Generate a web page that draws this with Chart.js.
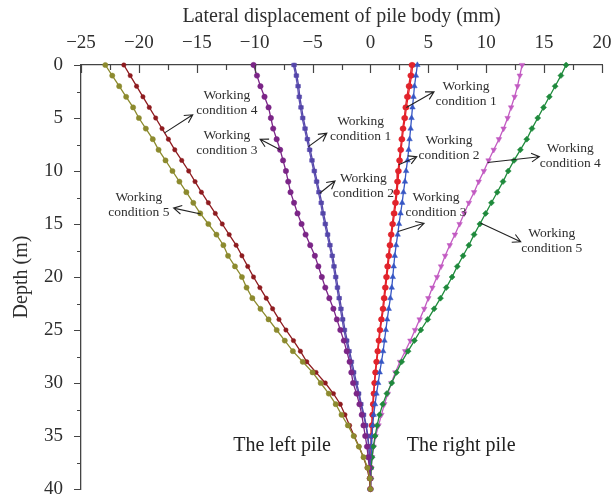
<!DOCTYPE html>
<html>
<head>
<meta charset="utf-8">
<script src="https://cdn.jsdelivr.net/npm/chart.js@4.4.0/dist/chart.umd.min.js"></script>
<style>
  html, body { margin: 0; background: #fff; }
</style>
</head>
<body>
<canvas id="pileChart" width="613" height="497"></canvas>
<script>
// Depth below pile head (m), one reading per metre
const depth = [0,1,2,3,4,5,6,7,8,9,10,11,12,13,14,15,16,17,18,19,20,
               21,22,23,24,25,26,27,28,29,30,31,32,33,34,35,36,37,38,39,40];

// Lateral displacement (mm) — left pile
const leftCase1 = [-6.65,-6.45,-6.3,-6.2,-6.05,-5.9,-5.7,-5.5,-5.3,-5.1,-4.9,-4.7,-4.5,-4.3,-4.15,-3.95,-3.75,-3.55,-3.35,-3.2,-3.05,
                   -2.9,-2.75,-2.6,-2.45,-2.3,-2.1,-1.9,-1.7,-1.5,-1.3,-1.05,-0.85,-0.6,-0.4,-0.25,-0.15,-0.1,-0.05,-0.02,0];
const leftCase2 = [-6.55,-6.35,-6.2,-6.1,-5.95,-5.8,-5.6,-5.4,-5.2,-5.0,-4.8,-4.6,-4.4,-4.2,-4.05,-3.85,-3.65,-3.45,-3.25,-3.1,-2.95,
                   -2.8,-2.65,-2.5,-2.35,-2.2,-2.0,-1.8,-1.6,-1.4,-1.2,-0.97,-0.78,-0.55,-0.36,-0.22,-0.13,-0.08,-0.04,-0.01,0];
const leftCase3 = [-10.1,-9.8,-9.5,-9.15,-8.8,-8.6,-8.4,-8.1,-7.8,-7.55,-7.3,-7.1,-6.9,-6.6,-6.3,-5.95,-5.6,-5.2,-4.8,-4.5,-4.2,
                   -3.9,-3.55,-3.2,-2.9,-2.6,-2.3,-2.05,-1.8,-1.65,-1.5,-1.2,-0.95,-0.75,-0.6,-0.45,-0.3,-0.2,-0.1,-0.05,0];
const leftCase4 = [-21.3,-20.75,-20.2,-19.65,-19.1,-18.55,-18.0,-17.45,-16.9,-16.3,-15.7,-15.15,-14.6,-14.0,-13.4,-12.8,-12.2,-11.6,-11.1,-10.6,-10.1,
                   -9.55,-9.0,-8.45,-7.9,-7.3,-6.65,-6.05,-5.5,-4.7,-3.9,-3.2,-2.6,-2.2,-1.8,-1.4,-1.0,-0.6,-0.3,-0.1,0];
const leftCase5 = [-22.9,-22.3,-21.7,-21.1,-20.5,-20.0,-19.4,-18.8,-18.3,-17.7,-17.1,-16.5,-15.9,-15.3,-14.7,-14.0,-13.3,-12.7,-12.3,-11.7,-11.1,
                   -10.7,-10.2,-9.5,-8.8,-8.1,-7.4,-6.7,-5.85,-5.0,-4.3,-3.6,-3.0,-2.5,-1.95,-1.45,-1.0,-0.6,-0.25,-0.05,0];

// Lateral displacement (mm) — right pile
const rightCase1 = [3.65,3.55,3.4,3.25,3.1,3.0,2.85,2.75,2.65,2.55,2.45,2.38,2.3,2.2,2.08,1.95,1.83,1.72,1.62,1.52,1.42,
                    1.32,1.22,1.12,0.98,0.85,0.75,0.65,0.55,0.45,0.36,0.3,0.24,0.18,0.13,0.09,0.06,0.04,0.02,0.01,0];
const rightCase2 = [3.55,3.45,3.3,3.15,3.02,2.92,2.78,2.68,2.58,2.48,2.38,2.3,2.22,2.12,2.0,1.88,1.76,1.65,1.55,1.45,1.35,
                    1.25,1.15,1.05,0.92,0.8,0.7,0.6,0.5,0.41,0.33,0.27,0.21,0.16,0.11,0.08,0.05,0.03,0.02,0.01,0];
const rightCase3 = [4.05,3.93,3.8,3.72,3.63,3.55,3.47,3.38,3.3,3.2,3.08,2.98,2.85,2.74,2.6,2.47,2.35,2.22,2.1,2.01,1.93,
                    1.84,1.72,1.58,1.45,1.33,1.21,1.1,0.95,0.8,0.67,0.52,0.4,0.28,0.2,0.13,0.08,0.05,0.02,0.01,0];
const rightCase4 = [13.1,12.9,12.7,12.45,12.15,11.85,11.5,11.1,10.65,10.2,9.8,9.35,8.95,8.5,8.1,7.7,7.3,6.85,6.45,6.1,5.75,
                    5.35,5.0,4.65,4.25,3.85,3.45,3.0,2.55,2.15,1.8,1.5,1.2,0.95,0.7,0.45,0.28,0.15,0.07,0.02,0];
const rightCase5 = [16.9,16.45,15.95,15.45,14.95,14.45,13.95,13.5,12.95,12.4,11.9,11.45,10.95,10.45,9.95,9.45,8.95,8.5,8.0,7.5,7.05,
                    6.55,6.05,5.5,4.95,4.35,3.8,3.25,2.7,2.25,1.84,1.42,1.06,0.78,0.58,0.4,0.25,0.14,0.06,0.02,0];

const SERIF = '"Liberation Serif", "DejaVu Serif", serif';
const INK = '#2e2e2e';

const series = [
  { label: 'Left pile, working condition 5',  data: leftCase5,  color: '#8c8a2e', style: 'circle',   r: 2.6 },
  { label: 'Left pile, working condition 4',  data: leftCase4,  color: '#8e1b1f', style: 'circle',   r: 2.2 },
  { label: 'Left pile, working condition 3',  data: leftCase3,  color: '#7b2587', style: 'circle',   r: 2.7 },
  { label: 'Left pile, working condition 2',  data: leftCase2,  color: '#5446a8', style: 'rect',     r: 2.5 },
  { label: 'Left pile, working condition 1',  data: leftCase1,  color: '#5d4fb3', style: 'rect',     r: 2.5 },
  { label: 'Right pile, working condition 5', data: rightCase5, color: '#1f8a3c', style: 'rectRot',  r: 3.0 },
  { label: 'Right pile, working condition 4', data: rightCase4, color: '#c25bc2', style: 'triangle', r: 3.2, rot: 180 },
  { label: 'Right pile, working condition 3', data: rightCase3, color: '#3656c4', style: 'triangle', r: 3.2 },
  { label: 'Right pile, working condition 2', data: rightCase2, color: '#e0242c', style: 'circle',   r: 2.6 },
  { label: 'Right pile, working condition 1', data: rightCase1, color: '#ec1c24', style: 'circle',   r: 2.6 },
];

// Callouts: arrow tail sits on a curve at the given depth, head/label in data units
const callouts = [
  { lines: ['Working', 'condition 4'], on: 1, at: 6.4,  head: [-15.35, 4.7],  label: [-12.4, 3.54] },
  { lines: ['Working', 'condition 3'], on: 2, at: 8.0,  head: [-9.53, 7.0],   label: [-12.4, 7.36] },
  { lines: ['Working', 'condition 5'], on: 0, at: 14.06,head: [-17.0, 13.5],  label: [-20.0, 13.16] },
  { lines: ['Working', 'condition 1'], on: 4, at: 7.7,  head: [-3.77, 6.44],  label: [-0.85, 6.08] },
  { lines: ['Working', 'condition 2'], on: 3, at: 12.1, head: [-3.06, 10.94], label: [-0.61, 11.37] },
  { lines: ['Working', 'condition 1'], on: 9, at: 4.0,  head: [5.49, 2.52],   label: [8.26, 2.74] },
  { lines: ['Working', 'condition 2'], on: 8, at: 9.4,  head: [4.0, 8.65],    label: [6.79, 7.78] },
  { lines: ['Working', 'condition 3'], on: 7, at: 15.7, head: [4.63, 14.93],  label: [5.66, 13.18] },
  { lines: ['Working', 'condition 4'], on: 6, at: 9.2,  head: [14.59, 8.65],  label: [17.26, 8.58] },
  { lines: ['Working', 'condition 5'], on: 5, at: 14.9, head: [12.98, 16.67], label: [15.66, 16.56] },
];

const pileNames = [
  { text: 'The left pile',  at: [-7.63, 35.9] },
  { text: 'The right pile', at: [7.83, 35.9] },
];

function valueAtDepth(values, d) {
  const i = Math.min(Math.floor(d), depth.length - 2);
  const t = d - depth[i];
  return values[i] + (values[i + 1] - values[i]) * t;
}

const minusSign = v => String(v).replace('-', '\u2212');

// Inward ticks on the top axis, outward ticks on the depth axis, minor every 2.5
const axisTicks = {
  id: 'axisTicks',
  afterDraw(chart) {
    const { ctx, scales: { x, y }, chartArea: a } = chart;
    ctx.save();
    ctx.strokeStyle = '#444';
    ctx.lineWidth = 1.2;
    ctx.beginPath();
    for (let v = -25; v <= 20; v += 2.5) {
      const px = Math.round(x.getPixelForValue(v)) + 0.5;
      const len = v % 5 === 0 ? 8 : 5;
      ctx.moveTo(px, a.top);
      ctx.lineTo(px, a.top + len);
    }
    for (let d = 0; d <= 40; d += 2.5) {
      const py = Math.round(y.getPixelForValue(d)) + 0.5;
      const len = d % 5 === 0 ? 7 : 4;
      ctx.moveTo(a.left, py);
      ctx.lineTo(a.left - len, py);
    }
    ctx.stroke();
    ctx.restore();
  }
};

const callout = {
  id: 'callout',
  afterDraw(chart) {
    const { ctx, scales: { x, y } } = chart;
    ctx.save();
    ctx.strokeStyle = '#222';
    ctx.fillStyle = INK;
    ctx.lineWidth = 1.1;
    ctx.font = '13.5px ' + SERIF;
    ctx.textAlign = 'center';
    ctx.textBaseline = 'middle';
    callouts.forEach(c => {
      const x0 = x.getPixelForValue(valueAtDepth(series[c.on].data, c.at));
      const y0 = y.getPixelForValue(c.at);
      const x1 = x.getPixelForValue(c.head[0]);
      const y1 = y.getPixelForValue(c.head[1]);
      const ang = Math.atan2(y1 - y0, x1 - x0);
      ctx.beginPath();
      ctx.moveTo(x0, y0);
      ctx.lineTo(x1, y1);
      ctx.moveTo(x1 - 9 * Math.cos(ang - 0.5), y1 - 9 * Math.sin(ang - 0.5));
      ctx.lineTo(x1, y1);
      ctx.lineTo(x1 - 9 * Math.cos(ang + 0.5), y1 - 9 * Math.sin(ang + 0.5));
      ctx.stroke();
      const lx = x.getPixelForValue(c.label[0]);
      const ly = y.getPixelForValue(c.label[1]);
      ctx.fillText(c.lines[0], lx, ly - 7.5);
      ctx.fillText(c.lines[1], lx, ly + 7.5);
    });
    ctx.font = '20px ' + SERIF;
    ctx.fillStyle = '#222';
    pileNames.forEach(p => {
      ctx.fillText(p.text, x.getPixelForValue(p.at[0]), y.getPixelForValue(p.at[1]));
    });
    ctx.restore();
  }
};

new Chart(document.getElementById('pileChart'), {
  type: 'scatter',
  data: {
    datasets: series.map(s => ({
      label: s.label,
      data: s.data.map((v, i) => ({ x: v, y: depth[i] })),
      showLine: true,
      borderColor: s.color,
      backgroundColor: s.color,
      borderWidth: 1.3,
      pointStyle: s.style,
      pointRadius: s.r,
      pointRotation: s.rot || 0,
      pointBorderWidth: 0.5,
      tension: 0,
      clip: false,
    }))
  },
  options: {
    responsive: false,
    devicePixelRatio: 1,
    animation: false,
    layout: { padding: 0 },
    plugins: {
      legend: { display: false },
      tooltip: { enabled: false },
    },
    scales: {
      x: {
        type: 'linear',
        position: 'top',
        min: -25,
        max: 20,
        // fixed band above the plot; keep the end labels from shrinking it
        afterFit: s => { s.height = 65; s.paddingLeft = 0; s.paddingRight = 11; },
        ticks: {
          stepSize: 5,
          padding: 11,
          color: INK,
          font: { family: SERIF, size: 19 },
          callback: minusSign,
        },
        grid: { display: true, drawOnChartArea: false, drawTicks: false },
        border: { display: true, color: '#444', width: 1.3 },
        title: {
          display: true,
          text: 'Lateral displacement of pile body (mm)',
          color: INK,
          font: { family: SERIF, size: 20 },
          padding: { top: 5, bottom: 0 },
        },
      },
      y: {
        type: 'linear',
        reverse: true,
        min: 0,
        max: 40,
        afterFit: s => { s.width = 81; s.paddingTop = 0; s.paddingBottom = 8; },
        ticks: {
          stepSize: 5,
          padding: 18,
          color: INK,
          font: { family: SERIF, size: 19, lineHeight: 1 },
        },
        grid: { display: true, drawOnChartArea: false, drawTicks: false },
        border: { display: true, color: '#444', width: 1.3 },
        title: {
          display: true,
          text: 'Depth (m)',
          color: INK,
          font: { family: SERIF, size: 20 },
          padding: { top: 10, bottom: 0 },
        },
      },
    },
  },
  plugins: [axisTicks, callout],
});
</script>
</body>
</html>
